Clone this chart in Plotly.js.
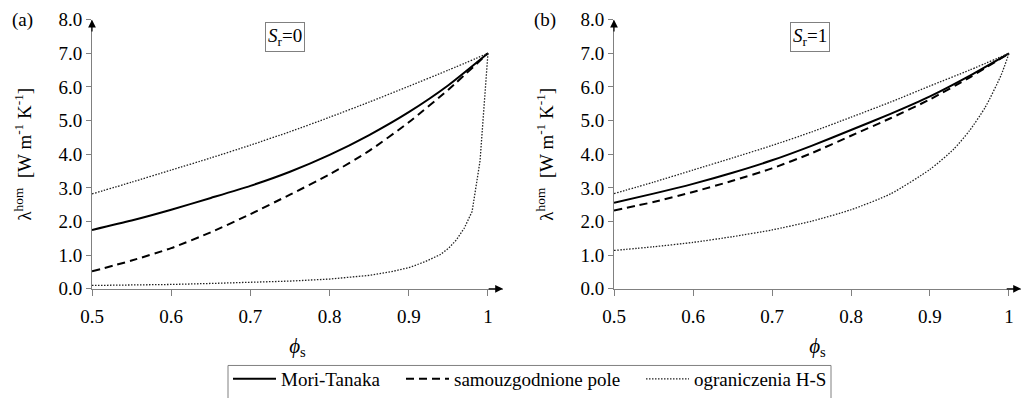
<!DOCTYPE html>
<html>
<head>
<meta charset="utf-8">
<script src="https://cdn.plot.ly/plotly-3.0.1.min.js"></script>
<style>html,body{margin:0;padding:0;background:#fff;}#chart{width:1024px;height:398px;}</style>
</head>
<body>
<div id="chart"></div>
<script>
// ---- data ----
const phi = [0.5, 0.55, 0.6, 0.65, 0.7, 0.75, 0.8, 0.85, 0.9, 0.95, 1.0];

// (a) Sr = 0
const mtA   = [1.75, 2.03, 2.35, 2.70, 3.06, 3.48, 3.98, 4.57, 5.25, 6.05, 7.0];
const scA   = [0.52, 0.84, 1.21, 1.68, 2.22, 2.80, 3.40, 4.10, 4.95, 5.92, 7.0];
const hsUpA = [2.82, 3.17, 3.53, 3.89, 4.27, 4.67, 5.10, 5.55, 6.02, 6.50, 7.0];
const phiLowA = [0.5, 0.55, 0.6, 0.65, 0.7, 0.75, 0.8, 0.85, 0.88, 0.9, 0.92, 0.94, 0.95, 0.96, 0.97, 0.98, 0.99, 1.0];
const hsLoA   = [0.10, 0.11, 0.13, 0.16, 0.19, 0.23, 0.29, 0.40, 0.52, 0.63, 0.80, 1.02, 1.20, 1.45, 1.80, 2.30, 3.80, 7.0];

// (b) Sr = 1
const mtB   = [2.56, 2.83, 3.12, 3.45, 3.82, 4.25, 4.72, 5.20, 5.72, 6.33, 7.0];
const scB   = [2.33, 2.58, 2.88, 3.21, 3.58, 4.03, 4.55, 5.07, 5.63, 6.28, 7.0];
const hsUpB = [2.83, 3.17, 3.53, 3.89, 4.26, 4.66, 5.10, 5.55, 6.03, 6.50, 7.0];
const phiLowB = [0.5, 0.55, 0.6, 0.65, 0.7, 0.75, 0.8, 0.85, 0.9, 0.93, 0.95, 0.97, 0.99, 1.0];
const hsLoB   = [1.14, 1.25, 1.38, 1.55, 1.75, 2.01, 2.35, 2.82, 3.55, 4.15, 4.70, 5.40, 6.35, 7.0];

const xTickVals = [0.5, 0.6, 0.7, 0.8, 0.9, 1.0];
const xTickText = ['0.5', '0.6', '0.7', '0.8', '0.9', '1'];
const names = ['Mori-Tanaka', 'samouzgodnione pole', 'ograniczenia H-S'];
const panelLabels = ['(a)', '(b)'];
const boxLabels = ['<i>S</i><sub>r</sub>=0', '<i>S</i><sub>r</sub>=1'];

// ---- styles ----
const FONT = 'Liberation Serif';
const solid = {color: '#000', width: 2, dash: 'solid', shape: 'spline', smoothing: 0.6};
const dashed = {color: '#000', width: 2, dash: '8px,5px', shape: 'spline', smoothing: 0.6};
const dotted = {color: '#222', width: 1.3, dash: '1.5px,1.5px', shape: 'spline', smoothing: 0.6};
const dottedLin = {color: '#222', width: 1.3, dash: '1.5px,1.5px', shape: 'linear'};

function tr(x, y, line, name, xa, ya, show, leg) {
  return {x: x, y: y, type: 'scatter', mode: 'lines', line: line, name: name,
          xaxis: xa, yaxis: ya, showlegend: show, legend: leg, hoverinfo: 'skip'};
}

const data = [
  tr(phi, mtA, solid, names[0], 'x', 'y', true, 'legend'),
  tr(phi, scA, dashed, names[1], 'x', 'y', true, 'legend2'),
  tr(phi, hsUpA, dotted, names[2], 'x', 'y', true, 'legend3'),
  tr(phiLowA, hsLoA, dottedLin, names[2], 'x', 'y', false, 'legend3'),
  tr(phi, mtB, solid, names[0], 'x2', 'y2', false, 'legend'),
  tr(phi, scB, dashed, names[1], 'x2', 'y2', false, 'legend2'),
  tr(phi, hsUpB, dotted, names[2], 'x2', 'y2', false, 'legend3'),
  tr(phiLowB, hsLoB, dotted, names[2], 'x2', 'y2', false, 'legend3')
];

const yDom = [(398 - 294) / 398, (398 - 20) / 398];
function xAxis(dom, rng, anchor) {
  return {domain: dom, range: rng, anchor: anchor, tickvals: xTickVals, ticktext: xTickText,
    ticks: 'outside', ticklen: 6, tickcolor: '#808080', showline: true, linecolor: '#808080', linewidth: 1,
    ticklabelstandoff: 4,
    showgrid: false, zeroline: false, tickfont: {family: FONT, size: 19, color: '#000'},
    title: {text: '<i>ϕ</i><sub>s</sub>', font: {family: FONT, size: 21, color: '#000'}, standoff: 12}};
}
function yAxis(anchor) {
  return {domain: yDom, range: [0, 8], anchor: anchor, dtick: 1, tick0: 0, tickformat: '.1f',
    ticks: 'outside', ticklen: 5, tickcolor: '#808080', showline: true, linecolor: '#808080', linewidth: 1,
    showgrid: false, zeroline: false, tickfont: {family: FONT, size: 19, color: '#000'},
    title: {text: 'λ<sup>hom</sup>  [W m<sup>-1</sup> K<sup>-1</sup>]', font: {family: FONT, size: 19, color: '#000'}, standoff: 21}};
}

const anns = [];
[['x', 'y', 1.019], ['x2', 'y2', 1.0152]].forEach(function (p) {
  anns.push({xref: p[0], yref: p[1], axref: p[0], ayref: p[1], x: p[2], y: 0, ax: p[2] - 0.02, ay: 0,
    text: '', showarrow: true, arrowhead: 2, arrowsize: 1.3, arrowwidth: 1.2, arrowcolor: '#000'});
  anns.push({xref: p[0], yref: p[1], axref: p[0], ayref: p[1], x: 0.5, y: 8, ax: 0.5, ay: 7.6,
    text: '', showarrow: true, arrowhead: 2, arrowsize: 1.3, arrowwidth: 1.2, arrowcolor: '#000'});
});
[[22, panelLabels[0]], [545, panelLabels[1]]].forEach(function (p) {
  anns.push({xref: 'paper', yref: 'paper', x: p[0] / 1024, y: (398 - 20) / 398, xanchor: 'center', yanchor: 'middle',
    text: p[1], showarrow: false, font: {family: FONT, size: 19, color: '#000'}});
});
[[285, boxLabels[0]], [810, boxLabels[1]]].forEach(function (p) {
  anns.push({xref: 'paper', yref: 'paper', x: p[0] / 1024, y: (398 - 38) / 398, xanchor: 'center', yanchor: 'middle',
    text: p[1], showarrow: false, bordercolor: '#808080', borderwidth: 1, borderpad: 2,
    font: {family: FONT, size: 19, color: '#000'}});
});

function leg(px) {
  return {orientation: 'h', x: px / 1024, y: (398 - 386) / 398, xanchor: 'left', yanchor: 'middle',
    borderwidth: 0, bgcolor: 'rgba(0,0,0,0)', itemwidth: 43,
    font: {family: FONT, size: 19, color: '#000'}};
}

const layout = {
  width: 1024, height: 398, margin: {l: 0, r: 0, t: 0, b: 0},
  paper_bgcolor: '#fff', plot_bgcolor: '#fff',
  font: {family: FONT, size: 19, color: '#000'},
  xaxis: xAxis([92 / 1024, 503 / 1024], [0.5, 1.019], 'y'),
  yaxis: yAxis('x'),
  xaxis2: xAxis([614 / 1024, 1021 / 1024], [0.5, 1.0152], 'y2'),
  yaxis2: yAxis('x2'),
  showlegend: true,
  legend: leg(228),
  legend2: leg(401),
  legend3: leg(641),
  shapes: [{type: 'rect', xref: 'paper', yref: 'paper', x0: 228 / 1024, x1: 831 / 1024,
    y0: -0.05, y1: (398 - 372) / 398, line: {color: '#808080', width: 1}, fillcolor: 'rgba(0,0,0,0)'}],
  annotations: anns
};

Plotly.newPlot('chart', data, layout, {staticPlot: true, displayModeBar: false});
</script>
</body>
</html>
